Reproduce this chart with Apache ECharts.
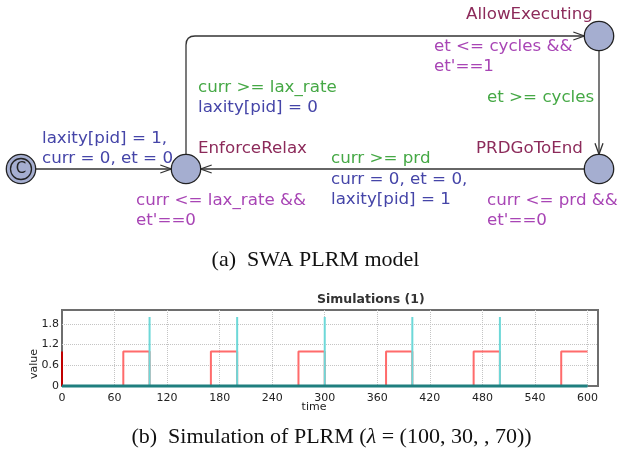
<!DOCTYPE html>
<html><head><meta charset="utf-8">
<script src="https://cdn.jsdelivr.net/npm/echarts@6/dist/echarts.min.js"></script>
<style>html,body{margin:0;padding:0;background:#fff}#c{width:619px;height:455px}</style>
</head><body><div id="c"></div>
<script>
// ---------- (b) simulation data ----------
const timeTicks = [0, 60, 120, 180, 240, 300, 360, 420, 480, 540, 600];
const valueTicks = [0, 0.6, 1.2, 1.8];
// laxity[pid] : value changes (step)
const laxityTimes  = [0, 70, 100, 170, 200, 270, 300, 370, 400, 470, 500, 570, 600];
const laxityValues = [0, 1,  0,   1,   0,   1,   0,   1,   0,   1,   0,   1,   1];
// et' spikes
const etTimes  = [0, 100, 100, 100, 200, 200, 200, 300, 300, 300, 400, 400, 400, 500, 500, 500, 600];
const etValues = [0, 0,   2,   0,   0,   2,   0,   0,   2,   0,   0,   2,   0,   0,   2,   0,   0];
// initial value at time 0
const initTimes  = [0, 0];
const initValues = [1, 0];
// constant-zero trace
const baseTimes  = [0, 600];
const baseValues = [0, 0];

// ---------- (a) automaton model ----------
const locNames     = ['', 'EnforceRelax', 'AllowExecuting', 'PRDGoToEnd'];
const locX         = [21, 186, 599, 599];
const locY         = [169, 169, 36, 169];
const locCommitted = [1, 0, 0, 0];
const edgeFrom  = [0, 1, 2, 3];
const edgeTo    = [1, 2, 3, 1];
const edgeNails = [[], [[186, 36]], [], []];

const labelTexts = [
  'laxity[pid] = 1,', 'curr = 0, et = 0',
  'curr >= lax_rate', 'laxity[pid] = 0',
  'EnforceRelax',
  'curr <= lax_rate &&', "et'==0",
  'AllowExecuting',
  'et <= cycles &&', "et'==1",
  'et >= cycles',
  'PRDGoToEnd',
  'curr >= prd', 'curr = 0, et = 0,', 'laxity[pid] = 1',
  'curr <= prd &&', "et'==0"
];
const labelKinds = ['assign','assign','guard','assign','name','inv','inv','name','inv','inv','guard','name','guard','assign','assign','inv','inv'];

// layout (pixels) and styles
const labelPos = [
  [42,139],[42,159],
  [198,88],[198,108],
  [198,149],
  [136,201],[136,221],
  [466,15],
  [434,47],[434,67],
  [487,98],
  [476,149],
  [331,159],[331,180],[331,200],
  [487,201],[487,221]
];
const kindColor = {assign:'#4545a8', guard:'#45a845', inv:'#a845b5', name:'#8c2a5a'};
const diagFont = '16.7px "DejaVu Sans"';
const R = 14.7;

function pairs(xs, ys){ return xs.map((x,k)=>[x, ys[k]]); }
function unit(a,b){ const dx=b[0]-a[0], dy=b[1]-a[1]; const l=Math.hypot(dx,dy)||1; return [dx/l, dy/l]; }

function edgeRender(params, api){
  const i = api.value(0);
  const raw = [[locX[edgeFrom[i]], locY[edgeFrom[i]]]].concat(edgeNails[i], [[locX[edgeTo[i]], locY[edgeTo[i]]]]);
  const pts = raw.map(p=>api.coord(p));
  const n = pts.length;
  const u0 = unit(pts[0], pts[1]);
  pts[0] = [pts[0][0]+u0[0]*R, pts[0][1]+u0[1]*R];
  const u1 = unit(pts[n-2], pts[n-1]);
  pts[n-1] = [pts[n-1][0]-u1[0]*R, pts[n-1][1]-u1[1]*R];
  const st = {stroke:'#333', lineWidth:1.3, fill:null};
  const children = [];
  const cr = 9;
  let cur = pts[0];
  for (let k=1;k<n-1;k++){
    const a = unit(pts[k], pts[k-1]), b = unit(pts[k], pts[k+1]);
    const p1 = [pts[k][0]+a[0]*cr, pts[k][1]+a[1]*cr];
    const p2 = [pts[k][0]+b[0]*cr, pts[k][1]+b[1]*cr];
    children.push({type:'line', shape:{x1:cur[0],y1:cur[1],x2:p1[0],y2:p1[1]}, style:st});
    children.push({type:'bezierCurve', shape:{x1:p1[0],y1:p1[1],x2:p2[0],y2:p2[1],cpx1:pts[k][0],cpy1:pts[k][1]}, style:st});
    cur = p2;
  }
  const tip = pts[n-1];
  children.push({type:'line', shape:{x1:cur[0],y1:cur[1],x2:tip[0],y2:tip[1]}, style:st});
  const L = 11, W = 4;
  const back = [tip[0]-u1[0]*L, tip[1]-u1[1]*L];
  const nx = -u1[1], ny = u1[0];
  children.push({type:'polyline', shape:{points:[[back[0]+nx*W, back[1]+ny*W], tip, [back[0]-nx*W, back[1]-ny*W]]}, style:st});
  return {type:'group', children};
}

function nodeRender(params, api){
  const c = api.coord([api.value(0), api.value(1)]);
  const committed = api.value(2);
  const children = [{type:'circle', shape:{cx:c[0], cy:c[1], r:R}, style:{fill:'#a5aed0', stroke:'#222', lineWidth:1.3}}];
  if (committed){
    children.push({type:'circle', shape:{cx:c[0], cy:c[1], r:10.5}, style:{fill:null, stroke:'#222', lineWidth:1.3}});
    children.push({type:'text', x:c[0], y:c[1]+0.5, style:{text:'C', fill:'#222', font:'15px "DejaVu Sans"', align:'center', verticalAlign:'middle', textAlign:'center', textVerticalAlign:'middle'}});
  }
  return {type:'group', children};
}

const graphicTexts = labelTexts.map((t,k)=>({
  type:'text', x:labelPos[k][0], y:labelPos[k][1], z:10,
  style:{text:t, fill:kindColor[labelKinds[k]], font:diagFont, verticalAlign:'middle', textVerticalAlign:'middle'}
}));
graphicTexts.push({type:'text', x:315.5, y:260, style:{text:'(a)  SWA PLRM model', fill:'#111', font:'22px "Liberation Serif"', align:'center', textAlign:'center', verticalAlign:'middle', textVerticalAlign:'middle'}});
graphicTexts.push({type:'text', x:331.5, y:437, style:{
  text:'(b)  Simulation of PLRM ({i|λ} = (100, 30, , 70))', fill:'#111', font:'22px "Liberation Serif"',
  fontSize:22, fontFamily:'Liberation Serif',
  rich:{i:{fontStyle:'italic', fontSize:22, fontFamily:'Liberation Serif', fill:'#111'}},
  align:'center', textAlign:'center', verticalAlign:'middle', textVerticalAlign:'middle'}});

const chart = echarts.init(document.getElementById('c'));
chart.setOption({
  animation:false,
  backgroundColor:'#fff',
  title:{text:'Simulations (1)', left:317, top:293, padding:0,
    textStyle:{fontSize:12.5, fontWeight:'bold', color:'#333', fontFamily:'DejaVu Sans'}},
  grid:[
    {left:62, top:310, right:21, bottom:69, show:true, borderColor:'#6e6e6e', borderWidth:2, backgroundColor:'#fff', containLabel:false},
    {left:0, top:0, width:619, height:240, show:false}
  ],
  xAxis:[
    {type:'value', gridIndex:0, min:0, max:612, interval:60,
     axisLine:{show:false}, axisTick:{show:false},
     splitLine:{show:true, showMinLine:false, showMaxLine:false, lineStyle:{type:'dotted', color:'#c4c4c4', width:1}},
     axisLabel:{fontSize:11, color:'#222', margin:7, fontFamily:'DejaVu Sans',
       formatter:v=>timeTicks.indexOf(Math.round(v))>=0 && Math.abs(v-Math.round(v))<1e-9 ? String(Math.round(v)) : ''},
     name:'time', nameLocation:'middle', nameGap:16, nameMoveOverlap:false,
     nameTextStyle:{fontSize:11, color:'#222', fontFamily:'DejaVu Sans', padding:[0,32,0,0]}},
    {type:'value', gridIndex:1, min:0, max:619, show:false}
  ],
  yAxis:[
    {type:'value', gridIndex:0, min:0, max:2.2, interval:0.6,
     axisLine:{show:false}, axisTick:{show:false},
     splitLine:{show:true, showMinLine:false, showMaxLine:false, lineStyle:{type:'dotted', color:'#c4c4c4', width:1}},
     axisLabel:{fontSize:11, color:'#222', margin:3, fontFamily:'DejaVu Sans',
       formatter:v=>{ const t = valueTicks.find(t=>Math.abs(t-v)<1e-9); return t===undefined ? '' : String(t); }},
     name:'value', nameLocation:'middle', nameGap:22, nameMoveOverlap:false,
     nameTextStyle:{fontSize:11, color:'#222', fontFamily:'DejaVu Sans', padding:[0,32,0,0]}},
    {type:'value', gridIndex:1, min:0, max:240, inverse:true, show:false}
  ],
  series:[
    {type:'line', name:'laxity', xAxisIndex:0, yAxisIndex:0, step:'end', data:pairs(laxityTimes, laxityValues),
     showSymbol:false, clip:false, lineStyle:{color:'#ff6b6b', width:2}, itemStyle:{color:'#ff6b6b'}, z:2},
    {type:'line', name:'et', xAxisIndex:0, yAxisIndex:0, data:pairs(etTimes, etValues),
     showSymbol:false, clip:false, lineStyle:{color:'#6dd8d8', width:2}, itemStyle:{color:'#6dd8d8'}, z:3},
    {type:'line', name:'init', xAxisIndex:0, yAxisIndex:0, data:pairs(initTimes, initValues),
     showSymbol:false, clip:false, lineStyle:{color:'#c00000', width:2}, itemStyle:{color:'#c00000'}, z:4},
    {type:'line', name:'zero', xAxisIndex:0, yAxisIndex:0, data:pairs(baseTimes, baseValues),
     showSymbol:false, clip:false, lineStyle:{color:'#1f7f7f', width:3}, itemStyle:{color:'#1f7f7f'}, z:5},
    {type:'custom', name:'transitions', xAxisIndex:1, yAxisIndex:1, renderItem:edgeRender,
     data:edgeFrom.map((f,k)=>[k, 0]), silent:true, z:6},
    {type:'custom', name:'locations', xAxisIndex:1, yAxisIndex:1, renderItem:nodeRender,
     data:locX.map((x,k)=>[x, locY[k], locCommitted[k]]), silent:true, z:7}
  ],
  graphic:graphicTexts
});
</script></body></html>
